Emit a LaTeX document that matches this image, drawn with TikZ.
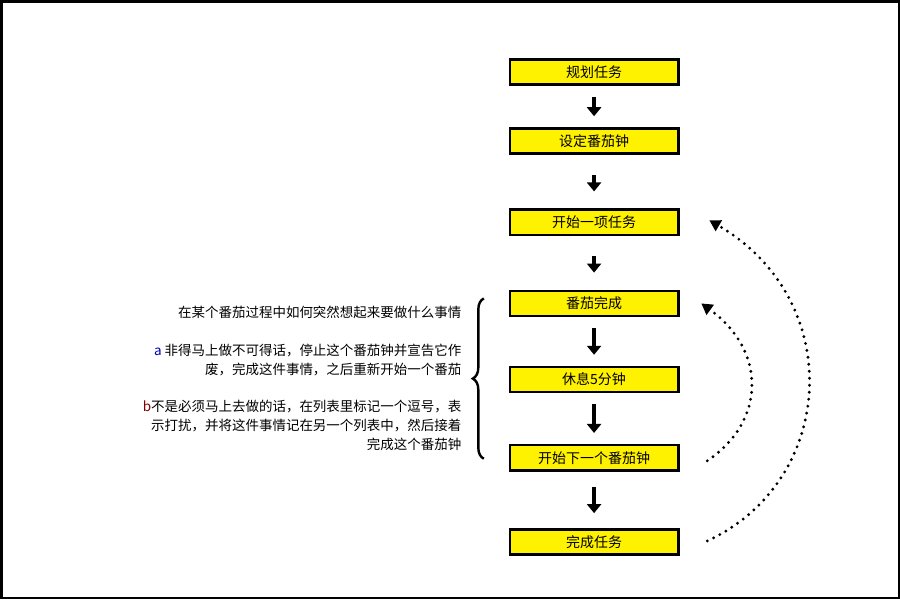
\documentclass[tikz,border=0pt]{standalone}
\usepackage{fontspec}
\setmainfont{Noto Sans CJK SC}
\usetikzlibrary{positioning,decorations.pathreplacing,arrows.meta}
\begin{document}
\begin{tikzpicture}[x=1bp,y=-1bp,
    stage/.style ={draw, line width=2.5bp, fill=yellow, minimum width=168bp, minimum height=25bp, inner sep=0pt, font=\fontsize{14}{16}\selectfont},
    flow/.style ={-{Triangle[length=9bp,width=14bp]}, line width=4bp, shorten <=11bp, shorten >=11bp},
    back/.style ={-{Triangle[length=11bp,width=12bp]}, line width=3.2bp, dash pattern=on 0pt off 7bp, line cap=round}]
   \draw[line width=2.5bp] (1.5,1.5) rectangle (897,597);
   % stages
   \node[stage] (plan)   at (593,72)  {规划任务};
   \node[stage] (timer)  at (593,141) {设定番茄钟};
   \node[stage] (start)  at (593,222) {开始一项任务};
   \node[stage] (done)   at (593,303) {番茄完成};
   \node[stage] (rest)   at (593,379) {休息5分钟};
   \node[stage] (next)   at (593,457) {开始下一个番茄钟};
   \node[stage] (finish) at (593,541) {完成任务};
   \draw[flow] (plan) -- (timer);
   \draw[flow, shorten <=20bp, shorten >=17bp] (timer) -- (start);
   \draw[flow, shorten <=20bp, shorten >=17bp] (start) -- (done);
   \draw[flow] (done) -- (rest);
   \draw[flow] (rest) -- (next);
   \draw[flow, shorten <=15bp, shorten >=15bp] (next) -- (finish);
   % loops back
   \coordinate (nextR) at (706,460);
   \coordinate (doneR) at (700,303);
   \coordinate (finR)  at (706,540);
   \coordinate (startR) at (708,220);
   \draw[back] (nextR) .. controls (765,420) and (765,350) .. (doneR);
   \draw[back] (finR) .. controls (835,480) and (845,300) .. (startR);
   % interruptions
   \draw[line width=2.4bp, decorate, decoration={brace, amplitude=11bp}]
     (483,458) -- (483,298);
   \node[anchor=east, align=right, font=\fontsize{13.5}{19}\selectfont] (q) at (464,312)
     {在某个番茄过程中如何突然想起来要做什么事情};
   \node[anchor=north east, align=right, font=\fontsize{13.5}{19}\selectfont] (qa) at (464,340)
     {\textcolor{blue!70!black}{a} 非得马上做不可得话，停止这个番茄钟并宣告它作\\废，完成这件事情，之后重新开始一个番茄};
   \node[anchor=north east, align=right, font=\fontsize{13.5}{19}\selectfont] (qb) at (464,396)
     {\textcolor{red!50!black}{b}不是必须马上去做的话，在列表里标记一个逗号，表\\示打扰，并将这件事情记在另一个列表中，然后接着\\完成这个番茄钟};
\end{tikzpicture}
\end{document}
